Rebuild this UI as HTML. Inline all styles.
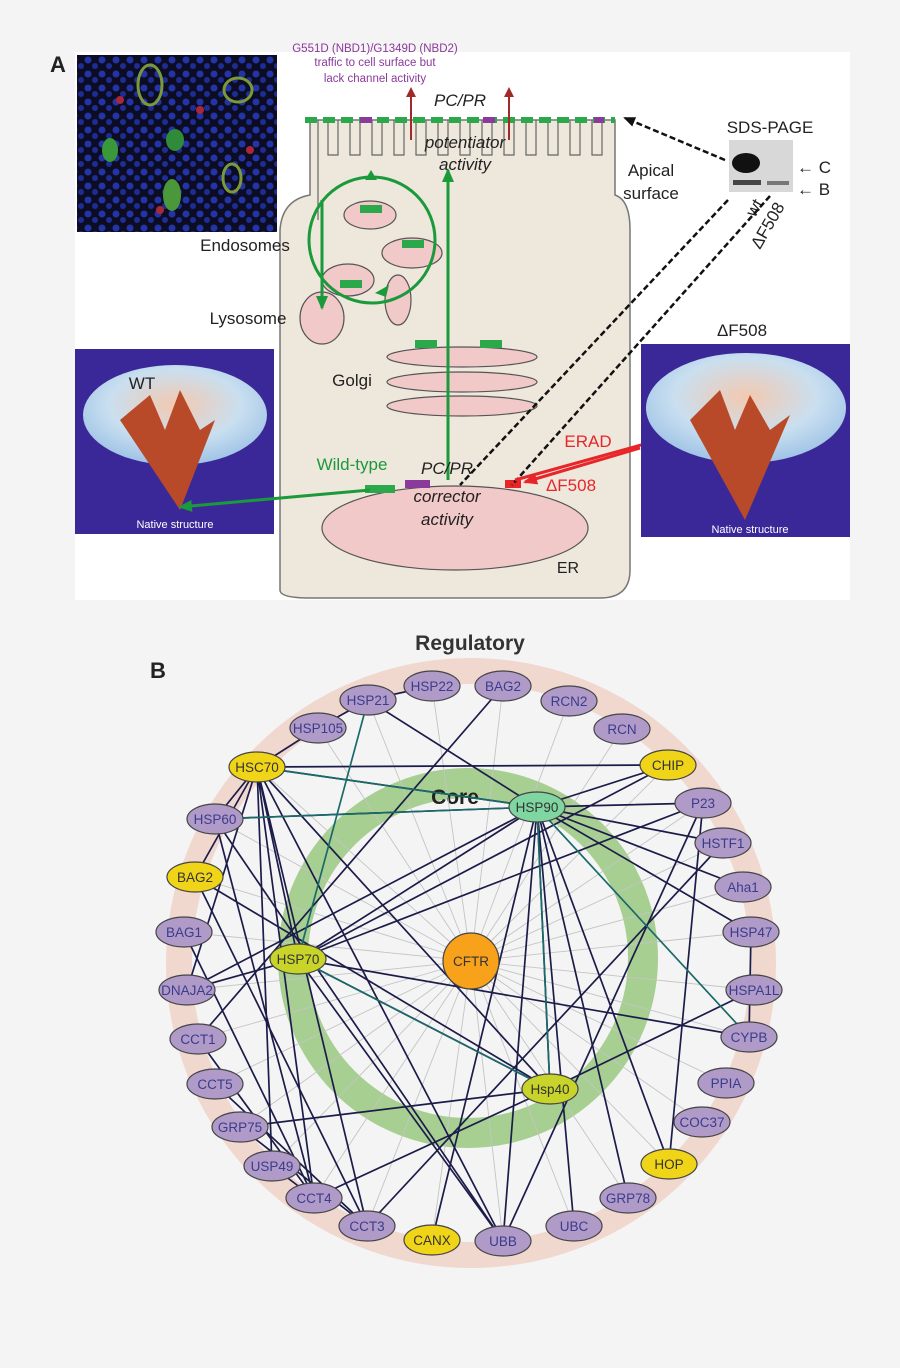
<!DOCTYPE html>
<html><head><meta charset="utf-8"><style>
html,body{margin:0;padding:0;background:#f4f4f4;}
svg{display:block;font-family:"Liberation Sans",sans-serif;}
</style></head><body>
<svg width="900" height="1368" viewBox="0 0 900 1368" xmlns="http://www.w3.org/2000/svg">
<defs>
<radialGradient id="bowl" cx="50%" cy="40%" r="60%"><stop offset="0" stop-color="#f3c9b0"/><stop offset="0.6" stop-color="#c9dff0"/><stop offset="1" stop-color="#9fc3e6"/></radialGradient>
<marker id="ag" markerUnits="userSpaceOnUse" markerWidth="14" markerHeight="12" refX="12" refY="6" orient="auto"><path d="M0,0 L14,6 L0,12z" fill="#1a9a3a"/></marker>
<marker id="ar" markerUnits="userSpaceOnUse" markerWidth="14" markerHeight="12" refX="12" refY="6" orient="auto"><path d="M0,0 L14,6 L0,12z" fill="#e8262a"/></marker>
<marker id="ab" markerUnits="userSpaceOnUse" markerWidth="12" markerHeight="10" refX="10" refY="5" orient="auto"><path d="M0,0 L12,5 L0,10z" fill="#111"/></marker>
<marker id="am" markerUnits="userSpaceOnUse" markerWidth="10" markerHeight="10" refX="5" refY="5" orient="auto"><path d="M0,0 L10,5 L0,10z" fill="#a02a2a"/></marker>
<pattern id="dots" width="14" height="14" patternUnits="userSpaceOnUse"><rect width="14" height="14" fill="#0c0c22"/><circle cx="4" cy="4" r="3.5" fill="#2334a8"/><circle cx="11" cy="10" r="3" fill="#1e2c96"/></pattern>
</defs>
<rect x="75" y="52" width="775" height="548" fill="#fff"/>
<text x="50" y="72" font-size="22" font-weight="bold" fill="#222">A</text>
<rect x="77" y="55" width="200" height="177" fill="url(#dots)"/>
<ellipse cx="150" cy="85" rx="12" ry="20" fill="none" stroke="#7a9a3a" stroke-width="3"/>
<ellipse cx="238" cy="90" rx="14" ry="12" fill="none" stroke="#7a9a3a" stroke-width="3"/>
<ellipse cx="110" cy="150" rx="8" ry="12" fill="#3a983a"/>
<ellipse cx="175" cy="140" rx="9" ry="11" fill="#2f8a3a"/>
<ellipse cx="172" cy="195" rx="9" ry="16" fill="#4a983a"/>
<ellipse cx="232" cy="178" rx="9" ry="14" fill="none" stroke="#7a9a3a" stroke-width="3"/>
<circle cx="200" cy="110" r="4" fill="#a8283a"/><circle cx="120" cy="100" r="4" fill="#a8283a"/><circle cx="250" cy="150" r="4" fill="#a8283a"/><circle cx="160" cy="210" r="4" fill="#a8283a"/>
<text x="375" y="52" font-size="11.5" fill="#8a3a9a" text-anchor="middle">G551D (NBD1)/G1349D (NBD2)</text>
<text x="375" y="66" font-size="11.5" fill="#8a3a9a" text-anchor="middle">traffic to cell surface but</text>
<text x="375" y="82" font-size="11.5" fill="#8a3a9a" text-anchor="middle">lack channel activity</text>
<path d="M280,590 L280,230 Q282,200 310,195 L310,120 L615,120 L615,195 Q630,200 630,230 L630,570 Q630,598 600,598 L310,598 Q280,598 280,590Z" fill="#eee7dc" stroke="#777" stroke-width="1.5"/>
<g stroke="#666" stroke-width="1.2" fill="none">
<path d="M318,120 V220 M328,120 V155 H338 V120 M350,120 V155 H360 V120 M372,120 V155 H382 V120 M394,120 V155 H404 V120 M416,120 V155 H426 V120 M438,120 V155 H448 V120 M460,120 V155 H470 V120 M482,120 V155 H492 V120 M504,120 V155 H514 V120 M526,120 V155 H536 V120 M548,120 V155 H558 V120 M570,120 V155 H580 V120 M592,120 V155 H602 V120"/>
</g>
<path d="M305,120 H615" stroke="#2aa84a" stroke-width="6" stroke-dasharray="12 6"/>
<path d="M360,120 h12 M483,120 h12 M594,120 h10" stroke="#8a3a9a" stroke-width="6"/>
<line x1="411" y1="140" x2="411" y2="92" stroke="#a02a2a" stroke-width="2" marker-end="url(#am)"/>
<line x1="509" y1="140" x2="509" y2="92" stroke="#a02a2a" stroke-width="2" marker-end="url(#am)"/>
<text x="460" y="106" font-size="17" font-style="italic" fill="#222" text-anchor="middle">PC/PR</text>
<text x="465" y="148" font-size="17" font-style="italic" fill="#222" text-anchor="middle">potentiator</text>
<text x="465" y="170" font-size="17" font-style="italic" fill="#222" text-anchor="middle">activity</text>
<g fill="#f2c9c9" stroke="#555" stroke-width="1.2">
<ellipse cx="370" cy="215" rx="26" ry="14"/>
<ellipse cx="412" cy="253" rx="30" ry="15"/>
<ellipse cx="348" cy="280" rx="26" ry="16"/>
<ellipse cx="398" cy="300" rx="13" ry="25"/>
<ellipse cx="322" cy="318" rx="22" ry="26"/>
<ellipse cx="462" cy="357" rx="75" ry="10"/>
<ellipse cx="462" cy="382" rx="75" ry="10"/>
<ellipse cx="462" cy="406" rx="75" ry="10"/>
<ellipse cx="455" cy="528" rx="133" ry="42"/>
</g>
<circle cx="372" cy="240" r="63" fill="none" stroke="#1a9a3a" stroke-width="3"/>
<path d="M322,200 V308" stroke="#1a9a3a" stroke-width="3" marker-end="url(#ag)"/>
<path d="M448,480 V170" stroke="#1a9a3a" stroke-width="3" marker-end="url(#ag)"/>
<path d="M365,180 l12,0 -6,-10z M375,293 l14,-8 -3,12z" fill="#1a9a3a"/>
<text x="245" y="251" font-size="17" fill="#222" text-anchor="middle">Endosomes</text>
<text x="248" y="324" font-size="17" fill="#222" text-anchor="middle">Lysosome</text>
<text x="352" y="386" font-size="17" fill="#222" text-anchor="middle">Golgi</text>
<text x="352" y="470" font-size="17" fill="#1a9a3a" text-anchor="middle">Wild-type</text>
<text x="447" y="474" font-size="17" font-style="italic" fill="#222" text-anchor="middle">PC/PR</text>
<text x="447" y="502" font-size="17" font-style="italic" fill="#222" text-anchor="middle">corrector</text>
<text x="447" y="525" font-size="17" font-style="italic" fill="#222" text-anchor="middle">activity</text>
<text x="568" y="573" font-size="16" fill="#222" text-anchor="middle">ER</text>
<text x="651" y="176" font-size="17" fill="#222" text-anchor="middle">Apical</text>
<text x="651" y="199" font-size="17" fill="#222" text-anchor="middle">surface</text>
<g fill="#2aa84a"><rect x="365" y="485" width="30" height="8"/><rect x="415" y="340" width="22" height="8"/><rect x="480" y="340" width="22" height="8"/><rect x="360" y="205" width="22" height="8"/><rect x="402" y="240" width="22" height="8"/><rect x="340" y="280" width="22" height="8"/></g>
<rect x="405" y="480" width="25" height="8" fill="#8a3a9a"/>
<rect x="505" y="480" width="16" height="8" fill="#e8262a"/>
<text x="770" y="133" font-size="17" fill="#222" text-anchor="middle">SDS-PAGE</text>
<rect x="729" y="140" width="64" height="52" fill="#d8d8d8"/>
<ellipse cx="746" cy="163" rx="14" ry="10" fill="#111"/>
<rect x="733" y="180" width="28" height="5" fill="#444"/><rect x="767" y="181" width="22" height="4" fill="#777"/>
<text x="797" y="173" font-size="17" fill="#222">← C</text>
<text x="797" y="195" font-size="17" fill="#222">← B</text>
<text transform="translate(755,218) rotate(-60)" font-size="17" fill="#222">wt</text>
<text transform="translate(760,250) rotate(-60)" font-size="17" fill="#222">ΔF508</text>
<g stroke="#111" stroke-width="2.5" stroke-dasharray="6 3" fill="none">
<line x1="725" y1="160" x2="625" y2="118" marker-end="url(#ab)"/>
<line x1="728" y1="200" x2="460" y2="485"/>
<line x1="770" y1="196" x2="512" y2="485"/>
</g>
<line x1="640" y1="448" x2="525" y2="482" stroke="#e8262a" stroke-width="3" marker-end="url(#ar)"/>
<line x1="515" y1="480" x2="760" y2="412" stroke="#e8262a" stroke-width="3" marker-end="url(#ar)"/>
<text x="588" y="447" font-size="17" fill="#e8262a" text-anchor="middle">ERAD</text>
<text x="571" y="491" font-size="17" fill="#e8262a" text-anchor="middle">ΔF508</text>
<rect x="75" y="349" width="199" height="185" fill="#3b2898"/>
<ellipse cx="175" cy="415" rx="92" ry="50" fill="url(#bowl)"/>
<path d="M120,420 L150,395 L165,430 L180,390 L200,430 L215,420 L180,510 Z" fill="#b84a2a"/>
<text x="142" y="389" font-size="17" fill="#222" text-anchor="middle">WT</text>
<text x="175" y="528" font-size="11" fill="#fff" text-anchor="middle">Native structure</text>
<line x1="370" y1="490" x2="180" y2="507" stroke="#1a9a3a" stroke-width="3" marker-end="url(#ag)"/>
<text x="742" y="336" font-size="17" fill="#222" text-anchor="middle">ΔF508</text>
<rect x="641" y="344" width="209" height="193" fill="#3b2898"/>
<ellipse cx="746" cy="408" rx="100" ry="55" fill="url(#bowl)"/>
<path d="M690,420 L720,390 L735,430 L750,395 L770,430 L790,415 L745,520 Z" fill="#b84a2a"/>
<text x="750" y="533" font-size="11" fill="#fff" text-anchor="middle">Native structure</text>

<text x="150" y="678" font-size="22" font-weight="bold" fill="#222">B</text>
<text x="470" y="650" font-size="21" font-weight="bold" fill="#333" text-anchor="middle">Regulatory</text>
<circle cx="471" cy="963" r="292" fill="none" stroke="#f0d8cf" stroke-width="26"/>
<circle cx="468" cy="958" r="175" fill="none" stroke="#a8cf92" stroke-width="30"/>
<text x="455" y="804" font-size="21" font-weight="bold" fill="#222" text-anchor="middle">Core</text>
<g stroke="#c4c4c4" stroke-width="0.9">
<path d="M471,961L368,700M471,961L432,686M471,961L503,686M471,961L569,701M471,961L622,729M471,961L668,765M471,961L703,803M471,961L723,843M471,961L743,887M471,961L751,932M471,961L754,990M471,961L749,1037M471,961L726,1083M471,961L702,1122M471,961L669,1164M471,961L628,1198M471,961L574,1226M471,961L503,1241M471,961L432,1240M471,961L367,1226M471,961L314,1198M471,961L272,1166M471,961L240,1127M471,961L215,1084M471,961L198,1039M471,961L187,990M471,961L184,932M471,961L195,877M471,961L215,819M471,961L257,767M471,961L318,728"/>
</g>
<g stroke="#1c1c4a" stroke-width="1.7" fill="none">
<path d="M257,767L318,728M318,728L368,700M368,700L432,686M257,767L215,819M257,767L195,877M257,767L668,765M257,767L537,807M257,767L314,1198M257,767L367,1226M257,767L272,1166M257,767L187,990M257,767L550,1089M257,767L503,1241M257,767L298,959"/>
<path d="M215,819L537,807M215,819L503,1241M215,819L314,1198M195,877L550,1089M195,877L367,1226M184,932L314,1198M187,990L537,807M187,990L298,959"/>
<path d="M368,700L537,807M503,686L198,1039M668,765L537,807M668,765L298,959M703,803L537,807M703,803L298,959M703,803L503,1241M723,843L537,807M723,843L367,1226M743,887L537,807M751,932L537,807M749,1037L298,959M749,1037L751,932M669,1164L537,807M669,1164L703,803M754,990L550,1089"/>
<path d="M550,1089L537,807M550,1089L314,1198M550,1089L240,1127M298,959L537,807M298,959L503,1241M198,1039L314,1198M215,1084L367,1226M240,1127L367,1226M272,1166L314,1198M574,1226L537,807M503,1241L537,807M628,1198L537,807M432,1240L537,807M298,959L550,1089"/>
</g>
<g stroke="#1a6a6a" stroke-width="1.7" fill="none">
<path d="M368,700L298,959M749,1037L537,807M298,959L550,1089M215,819L537,807M257,767L537,807M550,1089L537,807"/>
</g>
<g stroke="#444" stroke-width="1.2" font-size="13.5" text-anchor="middle">
<g fill="#b09ac8">
<ellipse cx="368" cy="700" rx="28" ry="15"/><ellipse cx="432" cy="686" rx="28" ry="15"/><ellipse cx="503" cy="686" rx="28" ry="15"/><ellipse cx="569" cy="701" rx="28" ry="15"/><ellipse cx="622" cy="729" rx="28" ry="15"/><ellipse cx="703" cy="803" rx="28" ry="15"/><ellipse cx="723" cy="843" rx="28" ry="15"/><ellipse cx="743" cy="887" rx="28" ry="15"/><ellipse cx="751" cy="932" rx="28" ry="15"/><ellipse cx="754" cy="990" rx="28" ry="15"/><ellipse cx="749" cy="1037" rx="28" ry="15"/><ellipse cx="726" cy="1083" rx="28" ry="15"/><ellipse cx="702" cy="1122" rx="28" ry="15"/><ellipse cx="628" cy="1198" rx="28" ry="15"/><ellipse cx="574" cy="1226" rx="28" ry="15"/><ellipse cx="503" cy="1241" rx="28" ry="15"/><ellipse cx="367" cy="1226" rx="28" ry="15"/><ellipse cx="314" cy="1198" rx="28" ry="15"/><ellipse cx="272" cy="1166" rx="28" ry="15"/><ellipse cx="240" cy="1127" rx="28" ry="15"/><ellipse cx="215" cy="1084" rx="28" ry="15"/><ellipse cx="198" cy="1039" rx="28" ry="15"/><ellipse cx="187" cy="990" rx="28" ry="15"/><ellipse cx="184" cy="932" rx="28" ry="15"/><ellipse cx="215" cy="819" rx="28" ry="15"/><ellipse cx="318" cy="728" rx="28" ry="15"/>
</g>
<g fill="#f0d418"><ellipse cx="668" cy="765" rx="28" ry="15"/><ellipse cx="669" cy="1164" rx="28" ry="15"/><ellipse cx="432" cy="1240" rx="28" ry="15"/><ellipse cx="195" cy="877" rx="28" ry="15"/><ellipse cx="257" cy="767" rx="28" ry="15"/></g>
<ellipse cx="537" cy="807" rx="28" ry="15" fill="#7fd6a0"/>
<ellipse cx="298" cy="959" rx="28" ry="15" fill="#c8d42a"/>
<ellipse cx="550" cy="1089" rx="28" ry="15" fill="#c8d42a"/>
<circle cx="471" cy="961" r="28" fill="#f7a21a"/>
<g stroke="none" fill="#3c3c8c">
<text x="368" y="705">HSP21</text><text x="432" y="691">HSP22</text><text x="503" y="691">BAG2</text><text x="569" y="706">RCN2</text><text x="622" y="734">RCN</text><text x="703" y="808">P23</text><text x="723" y="848">HSTF1</text><text x="743" y="892">Aha1</text><text x="751" y="937">HSP47</text><text x="754" y="995">HSPA1L</text><text x="749" y="1042">CYPB</text><text x="726" y="1088">PPIA</text><text x="702" y="1127">COC37</text><text x="628" y="1203">GRP78</text><text x="574" y="1231">UBC</text><text x="503" y="1246">UBB</text><text x="367" y="1231">CCT3</text><text x="314" y="1203">CCT4</text><text x="272" y="1171">USP49</text><text x="240" y="1132">GRP75</text><text x="215" y="1089">CCT5</text><text x="198" y="1044">CCT1</text><text x="187" y="995">DNAJA2</text><text x="184" y="937">BAG1</text><text x="215" y="824">HSP60</text><text x="318" y="733">HSP105</text>
</g>
<g stroke="none" fill="#333">
<text x="668" y="770">CHIP</text><text x="669" y="1169">HOP</text><text x="432" y="1245">CANX</text><text x="195" y="882">BAG2</text><text x="257" y="772">HSC70</text><text x="537" y="812">HSP90</text><text x="298" y="964">HSP70</text><text x="550" y="1094">Hsp40</text><text x="471" y="966">CFTR</text>
</g>
</g>
</svg>
</body></html>
